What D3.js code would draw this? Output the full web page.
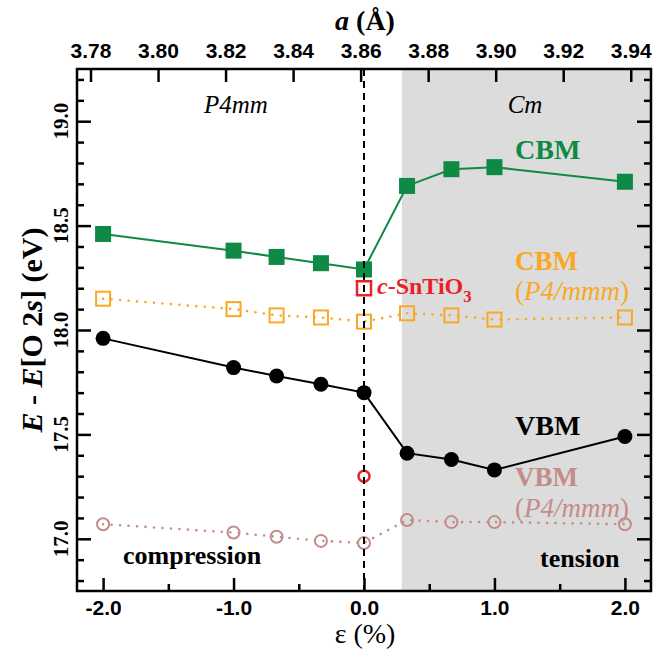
<!DOCTYPE html>
<html>
<head>
<meta charset="utf-8">
<script src="https://cdn.jsdelivr.net/npm/d3@7"></script>
<style>
  body { margin: 0; background: #fff; }
  svg { display: block; font-family: "Liberation Serif", "Times New Roman", Tinos, "Nimbus Roman", "DejaVu Serif", serif; }
</style>
</head>
<body>
<svg id="chart" width="667" height="653"></svg>
<script>
// strain values (%) and band edges (eV)
const strain = [-2.0, -1.0, -0.67, -0.33, 0.0, 0.33, 0.67, 1.0, 2.0];
const cbm = [18.46, 18.38, 18.35, 18.32, 18.29, 18.69, 18.77, 18.78, 18.71];
const cbmP4mmm = [18.15, 18.10, 18.07, 18.06, 18.04, 18.08, 18.07, 18.05, 18.06];
const vbm = [17.96, 17.82, 17.78, 17.74, 17.70, 17.41, 17.38, 17.33, 17.49];
const vbmP4mmm = [17.07, 17.03, 17.01, 16.99, 16.98, 17.09, 17.08, 17.08, 17.07];
// cubic SnTiO3 reference
const cubicCbm = 18.20;
const cubicVbm = 17.30;
// Cm region starts here
const phaseBoundary = 0.29;

// tick labels
const xTicks = [-2.0, -1.0, 0.0, 1.0, 2.0];
const xMinorTicks = [-1.5, -0.5, 0.5, 1.5];
const yTicks = [17.0, 17.5, 18.0, 18.5, 19.0];
const aTicks = [3.78, 3.80, 3.82, 3.84, 3.86, 3.88, 3.90, 3.92, 3.94];

const svg = d3.select("#chart");

var margin = {top: 69, right: 16, bottom: 62, left: 77},
    width = 667 - margin.left - margin.right,
    height = 653 - margin.top - margin.bottom;

const g = svg.append("g").attr("transform", `translate(${margin.left},${margin.top})`);

const x = d3.scaleLinear().domain([-2.2, 2.2]).range([0, width]);
const xTop = d3.scaleLinear().domain([3.776, 3.946]).range([0, width]);
const y = d3.scaleLinear().domain([16.75, 19.25]).range([height, 0]);

const green = "#0e8a45", orange = "#f9a825", rose = "#c48b89", red = "#e8212b";

// tension side shading
g.append("rect")
  .attr("x", x(phaseBoundary))
  .attr("y", 0)
  .attr("width", width - x(phaseBoundary))
  .attr("height", height)
  .attr("fill", "#dcdcdc");

// axes, ticks pointing inward
function styleAxis(sel) {
  sel.select(".domain").remove();
  sel.selectAll("line").attr("stroke", "#000").attr("stroke-width", 2.5);
  sel.selectAll("text")
    .attr("fill", "#000")
    .attr("font-family", null)
    .style("font-weight", "bold")
    .style("font-size", "21px");
}

g.append("g")
  .attr("transform", `translate(0,${height})`)
  .call(d3.axisBottom(x).tickValues(xTicks).tickSize(-13).tickSizeOuter(0)
    .tickPadding(9).tickFormat(d => d.toFixed(1)))
  .call(styleAxis);
g.append("g")
  .attr("transform", `translate(0,${height})`)
  .call(d3.axisBottom(x).tickValues(xMinorTicks).tickSize(-7).tickSizeOuter(0).tickFormat(""))
  .call(styleAxis);

g.append("g")
  .call(d3.axisTop(xTop).tickValues(aTicks).tickSize(-13).tickSizeOuter(0)
    .tickPadding(11).tickFormat(d => d.toFixed(2)))
  .call(styleAxis);

const yMinor = d3.range(16.8, 19.25, 0.1).filter(v => Math.abs(v * 2 - Math.round(v * 2)) > 0.01);
[0, width].forEach(function(pos, i) {
  const mk = i === 0 ? d3.axisLeft : d3.axisRight;
  g.append("g").attr("transform", `translate(${pos},0)`)
    .call(mk(y).tickValues(yTicks).tickSize(-14).tickSizeOuter(0).tickFormat(""))
    .call(styleAxis);
  g.append("g").attr("transform", `translate(${pos},0)`)
    .call(mk(y).tickValues(yMinor).tickSize(-7).tickSizeOuter(0).tickFormat(""))
    .call(styleAxis);
});

// rotated y tick labels
g.selectAll(".ylab")
  .data(yTicks)
  .enter()
  .append("text")
  .attr("transform", d => `translate(-9,${y(d)}) rotate(-90)`)
  .attr("text-anchor", "middle")
  .style("font-weight", "bold")
  .style("font-size", "21px")
  .text(d => d.toFixed(1));

// series lines
const line = (vals) => d3.line().x((d, i) => x(strain[i])).y(d => y(d))(vals);

g.append("path").attr("d", line(cbmP4mmm)).attr("fill", "none")
  .attr("stroke", orange).attr("stroke-width", 2.6)
  .attr("stroke-linecap", "round").attr("stroke-dasharray", "0,8.5");
g.append("path").attr("d", line(vbmP4mmm)).attr("fill", "none")
  .attr("stroke", rose).attr("stroke-width", 2.6)
  .attr("stroke-linecap", "round").attr("stroke-dasharray", "0,8.5");
g.append("path").attr("d", line(cbm)).attr("fill", "none")
  .attr("stroke", green).attr("stroke-width", 2);
g.append("path").attr("d", line(vbm)).attr("fill", "none")
  .attr("stroke", "#000").attr("stroke-width", 2);

// markers
g.selectAll(".cbm").data(cbm).enter().append("rect")
  .attr("x", (d, i) => x(strain[i]) - 8).attr("y", d => y(d) - 8)
  .attr("width", 16).attr("height", 16).attr("fill", green);

g.selectAll(".cbmp").data(cbmP4mmm).enter().append("rect")
  .attr("x", (d, i) => x(strain[i]) - 7).attr("y", d => y(d) - 7)
  .attr("width", 14).attr("height", 14)
  .attr("fill", "none").attr("stroke", orange).attr("stroke-width", 2);

g.selectAll(".vbm").data(vbm).enter().append("circle")
  .attr("cx", (d, i) => x(strain[i])).attr("cy", d => y(d))
  .attr("r", 7.5).attr("fill", "#000");

g.selectAll(".vbmp").data(vbmP4mmm).enter().append("circle")
  .attr("cx", (d, i) => x(strain[i])).attr("cy", d => y(d))
  .attr("r", 6).attr("fill", "none").attr("stroke", rose).attr("stroke-width", 2);

// cubic reference points
g.append("rect")
  .attr("x", x(0) - 7).attr("y", y(cubicCbm) - 7)
  .attr("width", 14).attr("height", 14)
  .attr("fill", "none").attr("stroke", red).attr("stroke-width", 2.5);
g.append("circle")
  .attr("cx", x(0)).attr("cy", y(cubicVbm)).attr("r", 5.5)
  .attr("fill", "none").attr("stroke", red).attr("stroke-width", 2.5);

// zero strain dashed line
g.append("line")
  .attr("x1", x(0)).attr("x2", x(0)).attr("y1", 0).attr("y2", height)
  .attr("stroke", "#000").attr("stroke-width", 2).attr("stroke-dasharray", "7,5");

// frame
g.append("rect").attr("width", width).attr("height", height)
  .attr("fill", "none").attr("stroke", "#000").attr("stroke-width", 2.5);

// annotations
function label(xp, yp, color, size, parts, anchor) {
  const t = svg.append("text")
    .attr("x", xp).attr("y", yp)
    .attr("fill", color)
    .attr("text-anchor", anchor || "start")
    .style("font-size", size + "px");
  parts.forEach(function(p) {
    const s = t.append("tspan").text(p.t);
    s.style("font-style", p.i ? "italic" : "normal");
    s.style("font-weight", p.b === false ? "normal" : "bold");
    if (p.sub) s.attr("dy", 8).style("font-size", (size * 0.7) + "px");
  });
  return t;
}

label(236, 113, "#000", 25, [{t: "P4mm", i: true, b: false}], "middle");
label(525, 113, "#000", 25, [{t: "Cm", i: true, b: false}], "middle");
label(515, 159, green, 28, [{t: "CBM"}]);
label(515, 270, orange, 27, [{t: "CBM"}]);
label(515, 300, orange, 27, [{t: "(", b: false}, {t: "P4/mmm", i: true, b: false}, {t: ")", b: false}]);
label(515, 435, "#000", 28, [{t: "VBM"}]);
label(515, 486, rose, 27, [{t: "VBM"}]);
label(515, 517, rose, 27, [{t: "(", b: false}, {t: "P4/mmm", i: true, b: false}, {t: ")", b: false}]);
label(123, 564, "#000", 26, [{t: "compression"}]);
label(540, 567, "#000", 26, [{t: "tension"}]);
label(377, 294, red, 24, [{t: "c", i: true}, {t: "-SnTiO"}, {t: "3", sub: true}]);

// axis titles
label(365, 30, "#000", 28, [{t: "a", i: true}, {t: " (Å)"}], "middle");
label(365, 643, "#000", 28, [{t: "ε (%)", b: false}], "middle");
label(0, 0, "#000", 30, [{t: "E", i: true}, {t: " - "}, {t: "E", i: true}, {t: "[O 2"}, {t: "s", i: true}, {t: "] (eV)"}], "middle")
  .attr("transform", "translate(42,330) rotate(-90)");
</script>
</body>
</html>
